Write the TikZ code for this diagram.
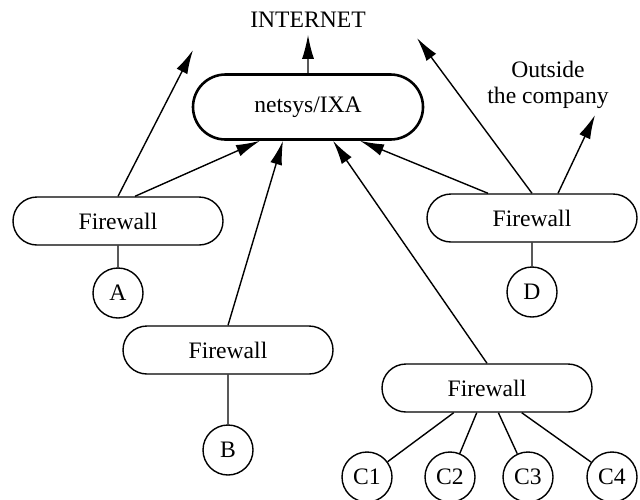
\documentclass[tikz,border=0pt]{standalone}
\usepackage{fontspec}
\setmainfont{Liberation Serif}
\usetikzlibrary{positioning,shapes,arrows.meta,calc}
\tikzstyle{gate} = [draw, rounded rectangle, line width=0.7pt,
    minimum width=105pt, minimum height=24pt, inner sep=0pt]
\tikzstyle{hub} = [gate, line width=1.3pt, minimum width=115pt, minimum height=32.5pt]
\tikzstyle{site} = [draw, circle, line width=0.7pt, minimum size=25pt, inner sep=0pt]
\tikzstyle{link} = [line width=0.7pt, -{Latex[length=12pt,width=6pt]}]
\tikzstyle{wire} = [line width=0.7pt]

\begin{document}
\begin{tikzpicture}[x=0.5pt,y=-0.5pt,font=\fontsize{11.8}{13}\selectfont]
\useasboundingbox (0,0) rectangle (640,499);
\node (inet) at (308,20) {INTERNET};
\node (netsys) [hub] at (308,107) {netsys/IXA};
\node (fwa) [gate] at (118,221) {Firewall};
\node (fwb) [gate] at (228,350) {Firewall};
\node (fwc) [gate] at (487,388) {Firewall};
\node (fwd) [gate] at (532,218) {Firewall};
\node (a) [site] at (118,293) {A};
\node (b) [site] at (228,450) {B};
\node (d) [site] at (532,292) {D};
\node (c1) [site] at (367,477) {C1};
\node (c2) [site] at (450,477) {C2};
\node (c3) [site] at (528,477) {C3};
\node (c4) [site] at (612,477) {C4};
\node (out) [align=center] at (548,85) {Outside\\the company};
\coordinate (upa) at (193,50);
\coordinate (upd) at (417,38);
\coordinate (upout) at (595,115);

\draw[link] (netsys) -- (inet);
\draw[link] (fwa.north) -- (upa);
\draw[link] ($(fwa.north)+(17,0)$) -- ($(netsys.south)+(-48,0)$);
\draw[link] (fwb.north) -- ($(netsys.south)+(-25,0)$);
\draw[link] (fwc.north) -- ($(netsys.south)+(25,0)$);
\draw[link] ($(fwd.north)+(-44,0)$) -- ($(netsys.south)+(52,0)$);
\draw[link] (fwd.north) -- (upd);
\draw[link] ($(fwd.north)+(26,0)$) -- (upout);

\draw[wire] (fwa) -- (a);
\draw[wire] (fwb) -- (b);
\draw[wire] (fwd) -- (d);
\foreach \c in {c1,c2,c3,c4}
    \draw[wire] (fwc) -- (\c);
\end{tikzpicture}
\end{document}
